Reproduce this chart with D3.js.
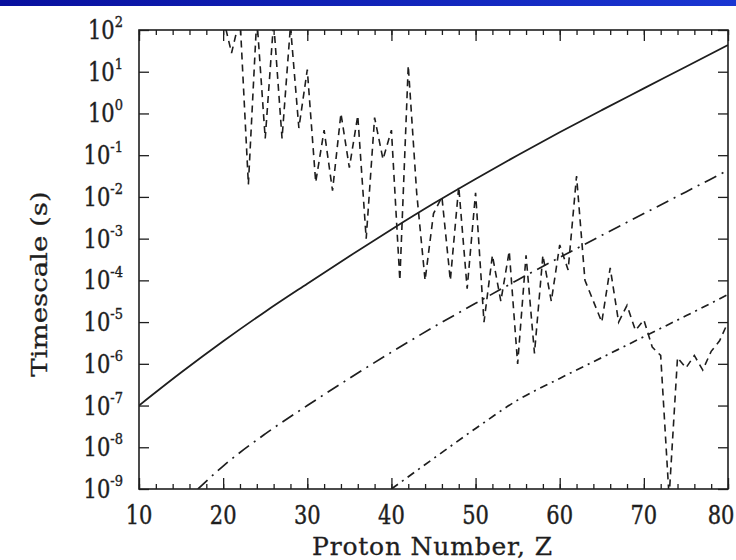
<!DOCTYPE html>
<html lang="en">
<head>
<meta charset="UTF-8">
<script src="https://d3js.org/d3.v7.min.js"></script>
<title>Timescale vs Proton Number</title>
<style>
    body { margin: 0; background: #fff; }
    svg { display: block; font-family: "DejaVu Serif", serif; }
</style>
</head>
<body>
<div id="chart"></div>
<script>
    // ---- data (timescales as log10 of seconds) ----
    const zCurve = [10, 15, 20, 25, 30, 35, 40, 45, 50, 55, 60, 65, 70, 75, 80];
    const solidExp = [-7.0, -6.21, -5.46, -4.75, -4.08, -3.42, -2.78, -2.16, -1.57, -1.0, -0.45, 0.08, 0.6, 1.12, 1.64];

    const zUpper = [17, 20, 25, 30, 35, 40, 45, 50, 55, 60, 65, 70, 75, 80];
    const upperExp = [-9.0, -8.45, -7.68, -7.0, -6.35, -5.72, -5.12, -4.55, -3.99, -3.45, -2.92, -2.40, -1.88, -1.36];

    const zLower = [40, 45, 50, 55, 60, 65, 70, 75, 80];
    const lowerExp = [-9.0, -8.27, -7.55, -6.87, -6.35, -5.85, -5.35, -4.85, -4.34];

    // dashed curve, one value per proton number Z = 20 .. 80
    const zDashed = d3.range(20, 81);
    const dashedExp = [
        2.3, 1.45, 2.3, -1.7, 2.3, -0.6, 2.2, -0.6, 2.1, -0.35,
        1.05, -1.65, -0.4, -1.85, 0.0, -1.3, -0.05, -3.0, -0.1, -1.1,
        -0.4, -4.0, 1.15, -1.9, -4.0, -2.4, -2.0, -4.0, -1.75, -4.2,
        -1.9, -5.0, -3.4, -4.5, -3.3, -6.0, -3.4, -5.75, -3.4, -4.5,
        -3.15, -3.75, -1.5, -4.0, -4.5, -5.0, -3.7, -5.0, -4.6, -5.2,
        -4.95, -5.6, -5.8, -9.2, -5.85, -6.1, -5.8, -6.15, -5.7, -5.45,
        -5.0
    ];

    const xMajor = [10, 20, 30, 40, 50, 60, 70, 80];
    const xMinor = d3.range(10, 81, 2);
    const yExps = [2, 1, 0, -1, -2, -3, -4, -5, -6, -7, -8, -9];

    const width = 736, height = 560;
    const plotLeft = 139, plotRight = 728, plotTop = 30, plotBottom = 489;
    const ink = "#1e1e1e";

    const svg = d3.select("#chart").append("svg")
        .attr("width", width)
        .attr("height", height);

    // blue band along the top edge
    const defs = svg.append("defs");
    const grad = defs.append("linearGradient").attr("id", "band");
    grad.append("stop").attr("offset", "0%").attr("stop-color", "#08109e");
    grad.append("stop").attr("offset", "100%").attr("stop-color", "#1a36d2");
    svg.append("rect")
        .attr("x", 0).attr("y", 0)
        .attr("width", width).attr("height", 6)
        .attr("fill", "url(#band)");

    defs.append("clipPath").attr("id", "plot")
        .append("rect")
        .attr("x", plotLeft).attr("y", plotTop)
        .attr("width", plotRight - plotLeft).attr("height", plotBottom - plotTop);

    const x = d3.scaleLinear().domain([10, 80]).range([plotLeft, plotRight]);
    const y = d3.scaleLog().domain([1e-9, 1e2]).range([plotBottom, plotTop]);

    // ---- axes (ticks point inward on all four sides) ----
    const axisStyle = g => {
        g.select(".domain").remove();
        g.selectAll("line").attr("stroke", ink).attr("stroke-width", 1.3);
    };

    svg.append("g").attr("transform", `translate(0,${plotBottom})`)
        .call(d3.axisBottom(x).tickValues(xMinor).tickSize(-5).tickFormat(""))
        .call(axisStyle);
    svg.append("g").attr("transform", `translate(0,${plotBottom})`)
        .call(d3.axisBottom(x).tickValues(xMajor).tickSize(-11).tickFormat(""))
        .call(axisStyle);
    svg.append("g").attr("transform", `translate(0,${plotTop})`)
        .call(d3.axisTop(x).tickValues(xMinor).tickSize(-5).tickFormat(""))
        .call(axisStyle);
    svg.append("g").attr("transform", `translate(0,${plotTop})`)
        .call(d3.axisTop(x).tickValues(xMajor).tickSize(-11).tickFormat(""))
        .call(axisStyle);

    const yTicks = yExps.map(e => Math.pow(10, e));
    svg.append("g").attr("transform", `translate(${plotLeft},0)`)
        .call(d3.axisLeft(y).tickValues(yTicks).tickSize(-10).tickFormat(""))
        .call(axisStyle);
    svg.append("g").attr("transform", `translate(${plotRight},0)`)
        .call(d3.axisRight(y).tickValues(yTicks).tickSize(-10).tickFormat(""))
        .call(axisStyle);

    svg.append("rect")
        .attr("x", plotLeft).attr("y", plotTop)
        .attr("width", plotRight - plotLeft).attr("height", plotBottom - plotTop)
        .attr("fill", "none")
        .attr("stroke", ink)
        .attr("stroke-width", 1.6);

    // ---- tick labels ----
    svg.append("g").selectAll("text")
        .data(xMajor)
        .join("text")
        .attr("transform", (d, i) => {
            // the last label sits against the right edge of the picture
            const cx = i === xMajor.length - 1 ? Math.min(x(d), width - 15) : x(d);
            return `translate(${cx},${plotBottom + 35}) scale(1,1.2)`;
        })
        .attr("text-anchor", "middle")
        .attr("font-size", 21)
        .attr("fill", ink)
        .attr("stroke", ink)
        .attr("stroke-width", 0.35)
        .text(d => d);

    const yLab = svg.append("g").selectAll("text")
        .data(yExps)
        .join("text")
        .attr("transform", d => `translate(${plotLeft - 16},${y(Math.pow(10, d)) + 9}) scale(1,1.2)`)
        .attr("text-anchor", "end")
        .attr("font-size", 21)
        .attr("fill", ink)
        .attr("stroke", ink)
        .attr("stroke-width", 0.35);
    yLab.append("tspan").text("10");
    yLab.append("tspan")
        .attr("dy", -10)
        .attr("font-size", 13)
        .text(d => d);

    // ---- axis titles ----
    svg.append("text")
        .attr("x", 432)
        .attr("y", 555)
        .attr("text-anchor", "middle")
        .attr("font-size", 25)
        .attr("fill", ink)
        .attr("stroke", ink)
        .attr("stroke-width", 0.3)
        .attr("textLength", 240)
        .text("Proton Number, Z");

    svg.append("text")
        .attr("transform", "translate(47,284) scale(1,1.2) rotate(-90)")
        .attr("text-anchor", "middle")
        .attr("font-size", 23)
        .attr("fill", ink)
        .attr("stroke", ink)
        .attr("stroke-width", 0.3)
        .text("Timescale (s)");

    // ---- curves ----
    const line = d3.line()
        .x(d => x(d[0]))
        .y(d => y(Math.pow(10, d[1])));
    const smooth = d3.line()
        .x(d => x(d[0]))
        .y(d => y(Math.pow(10, d[1])))
        .curve(d3.curveMonotoneX);

    const plot = svg.append("g").attr("clip-path", "url(#plot)");

    plot.append("path")
        .datum(zCurve.map((z, i) => [z, solidExp[i]]))
        .attr("d", smooth)
        .attr("fill", "none")
        .attr("stroke", ink)
        .attr("stroke-width", 1.8);

    plot.append("path")
        .datum(zUpper.map((z, i) => [z, upperExp[i]]))
        .attr("d", smooth)
        .attr("fill", "none")
        .attr("stroke", ink)
        .attr("stroke-width", 1.7)
        .attr("stroke-dasharray", "13,6,2,6");

    plot.append("path")
        .datum(zLower.map((z, i) => [z, lowerExp[i]]))
        .attr("d", smooth)
        .attr("fill", "none")
        .attr("stroke", ink)
        .attr("stroke-width", 1.7)
        .attr("stroke-dasharray", "8,5,2,5");

    plot.append("path")
        .datum(zDashed.map((z, i) => [z, dashedExp[i]]))
        .attr("d", line)
        .attr("fill", "none")
        .attr("stroke", ink)
        .attr("stroke-width", 1.6)
        .attr("stroke-dasharray", "7,5");
</script>
</body>
</html>
